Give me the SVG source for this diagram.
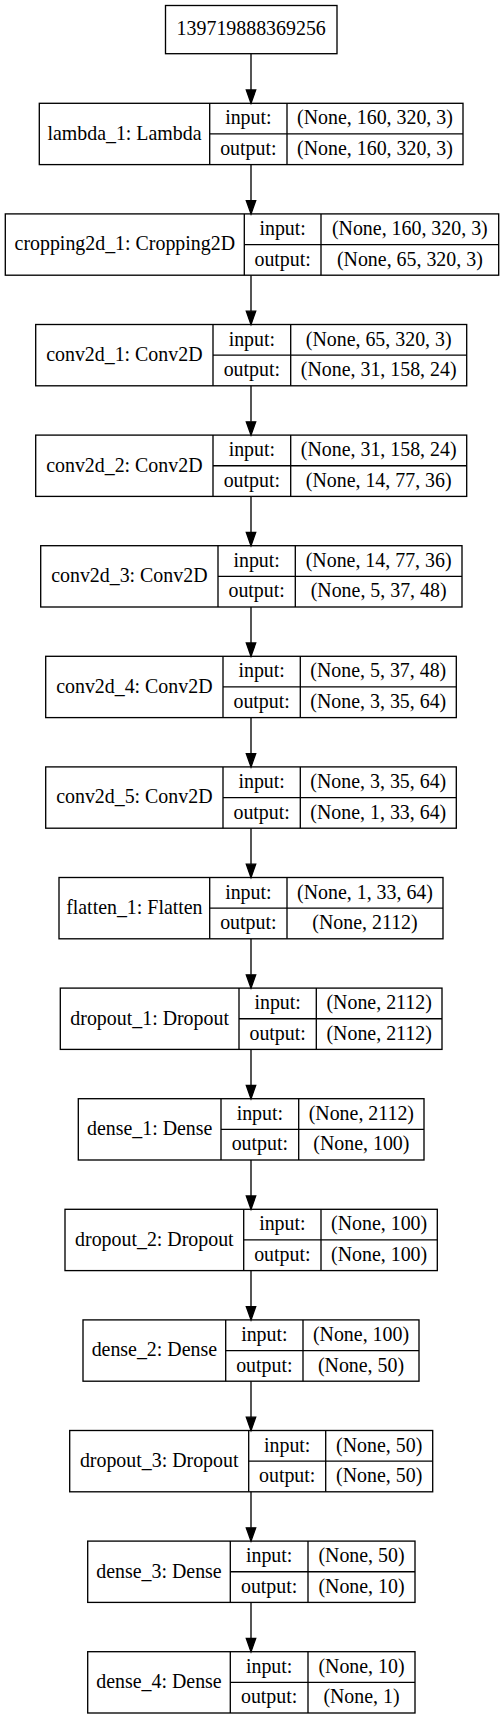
<svg xmlns="http://www.w3.org/2000/svg" width="503" height="1720" viewBox="0 0 503 1720">
<defs>
<style>
.b{fill:none;stroke:#000;stroke-width:1.33}
.l{stroke:#000;stroke-width:1.33}
text{font-family:"Liberation Serif","Times New Roman",serif;font-size:19.9px;fill:#000;text-anchor:middle}
.a{fill:#000;stroke:#000;stroke-width:1.33}
</style>
</defs>
<rect width="503" height="1720" fill="#fff"/>
<g id="connectors">
<line class="l" x1="251" y1="53.7" x2="251" y2="90"/><polygon class="a" points="251,103.3 246.3,90 255.7,90"/>
<line class="l" x1="251" y1="164.6" x2="251" y2="200.6"/><polygon class="a" points="251,213.9 246.3,200.6 255.7,200.6"/>
<line class="l" x1="251" y1="275.2" x2="251" y2="311.2"/><polygon class="a" points="251,324.5 246.3,311.2 255.7,311.2"/>
<line class="l" x1="251" y1="385.8" x2="251" y2="421.8"/><polygon class="a" points="251,435.1 246.3,421.8 255.7,421.8"/>
<line class="l" x1="251" y1="496.4" x2="251" y2="532.4"/><polygon class="a" points="251,545.7 246.3,532.4 255.7,532.4"/>
<line class="l" x1="251" y1="607" x2="251" y2="643"/><polygon class="a" points="251,656.3 246.3,643 255.7,643"/>
<line class="l" x1="251" y1="717.6" x2="251" y2="753.6"/><polygon class="a" points="251,766.9 246.3,753.6 255.7,753.6"/>
<line class="l" x1="251" y1="828.2" x2="251" y2="864.2"/><polygon class="a" points="251,877.5 246.3,864.2 255.7,864.2"/>
<line class="l" x1="251" y1="938.8" x2="251" y2="974.8"/><polygon class="a" points="251,988.1 246.3,974.8 255.7,974.8"/>
<line class="l" x1="251" y1="1049.4" x2="251" y2="1085.4"/><polygon class="a" points="251,1098.7 246.3,1085.4 255.7,1085.4"/>
<line class="l" x1="251" y1="1160" x2="251" y2="1196"/><polygon class="a" points="251,1209.3 246.3,1196 255.7,1196"/>
<line class="l" x1="251" y1="1270.6" x2="251" y2="1306.6"/><polygon class="a" points="251,1319.9 246.3,1306.6 255.7,1306.6"/>
<line class="l" x1="251" y1="1381.2" x2="251" y2="1417.2"/><polygon class="a" points="251,1430.5 246.3,1417.2 255.7,1417.2"/>
<line class="l" x1="251" y1="1491.8" x2="251" y2="1527.8"/><polygon class="a" points="251,1541.1 246.3,1527.8 255.7,1527.8"/>
<line class="l" x1="251" y1="1602.4" x2="251" y2="1638.4"/><polygon class="a" points="251,1651.7 246.3,1638.4 255.7,1638.4"/>
</g>
<g id="input_node">
<rect class="b" x="165.5" y="5.5" width="171.5" height="48.2"/>
<text x="251.2" y="34.8">139719888369256</text>
</g>
<g id="lambda_1" transform="translate(0,103.3)">
<rect class="b" x="39.3" y="0" width="423.7" height="61.3"/>
<line class="l" x1="209.7" y1="0" x2="209.7" y2="61.3"/><line class="l" x1="287" y1="0" x2="287" y2="61.3"/><line class="l" x1="209.7" y1="30.65" x2="463" y2="30.65"/>
<text x="124.5" y="36.5">lambda_1: Lambda</text><text x="248.35" y="21">input:</text><text x="248.35" y="51.8">output:</text>
<text x="375" y="21">(None, 160, 320, 3)</text><text x="375" y="51.8">(None, 160, 320, 3)</text>
</g>
<g id="cropping2d_1" transform="translate(0,213.9)">
<rect class="b" x="5.3" y="0" width="493.4" height="61.3"/>
<line class="l" x1="244.3" y1="0" x2="244.3" y2="61.3"/><line class="l" x1="321" y1="0" x2="321" y2="61.3"/><line class="l" x1="244.3" y1="30.65" x2="498.7" y2="30.65"/>
<text x="124.8" y="36.5">cropping2d_1: Cropping2D</text><text x="282.65" y="21">input:</text><text x="282.65" y="51.8">output:</text>
<text x="409.85" y="21">(None, 160, 320, 3)</text><text x="409.85" y="51.8">(None, 65, 320, 3)</text>
</g>
<g id="conv2d_1" transform="translate(0,324.5)">
<rect class="b" x="35.7" y="0" width="431" height="61.3"/>
<line class="l" x1="213" y1="0" x2="213" y2="61.3"/><line class="l" x1="290.7" y1="0" x2="290.7" y2="61.3"/><line class="l" x1="213" y1="30.65" x2="466.7" y2="30.65"/>
<text x="124.35" y="36.5">conv2d_1: Conv2D</text><text x="251.85" y="21">input:</text><text x="251.85" y="51.8">output:</text>
<text x="378.7" y="21">(None, 65, 320, 3)</text><text x="378.7" y="51.8">(None, 31, 158, 24)</text>
</g>
<g id="conv2d_2" transform="translate(0,435.1)">
<rect class="b" x="35.7" y="0" width="431" height="61.3"/>
<line class="l" x1="213" y1="0" x2="213" y2="61.3"/><line class="l" x1="290.7" y1="0" x2="290.7" y2="61.3"/><line class="l" x1="213" y1="30.65" x2="466.7" y2="30.65"/>
<text x="124.35" y="36.5">conv2d_2: Conv2D</text><text x="251.85" y="21">input:</text><text x="251.85" y="51.8">output:</text>
<text x="378.7" y="21">(None, 31, 158, 24)</text><text x="378.7" y="51.8">(None, 14, 77, 36)</text>
</g>
<g id="conv2d_3" transform="translate(0,545.7)">
<rect class="b" x="40.7" y="0" width="421.3" height="61.3"/>
<line class="l" x1="218" y1="0" x2="218" y2="61.3"/><line class="l" x1="295.3" y1="0" x2="295.3" y2="61.3"/><line class="l" x1="218" y1="30.65" x2="462" y2="30.65"/>
<text x="129.35" y="36.5">conv2d_3: Conv2D</text><text x="256.65" y="21">input:</text><text x="256.65" y="51.8">output:</text>
<text x="378.65" y="21">(None, 14, 77, 36)</text><text x="378.65" y="51.8">(None, 5, 37, 48)</text>
</g>
<g id="conv2d_4" transform="translate(0,656.3)">
<rect class="b" x="45.7" y="0" width="410.6" height="61.3"/>
<line class="l" x1="223" y1="0" x2="223" y2="61.3"/><line class="l" x1="300.3" y1="0" x2="300.3" y2="61.3"/><line class="l" x1="223" y1="30.65" x2="456.3" y2="30.65"/>
<text x="134.35" y="36.5">conv2d_4: Conv2D</text><text x="261.65" y="21">input:</text><text x="261.65" y="51.8">output:</text>
<text x="378.3" y="21">(None, 5, 37, 48)</text><text x="378.3" y="51.8">(None, 3, 35, 64)</text>
</g>
<g id="conv2d_5" transform="translate(0,766.9)">
<rect class="b" x="45.7" y="0" width="410.6" height="61.3"/>
<line class="l" x1="223" y1="0" x2="223" y2="61.3"/><line class="l" x1="300.3" y1="0" x2="300.3" y2="61.3"/><line class="l" x1="223" y1="30.65" x2="456.3" y2="30.65"/>
<text x="134.35" y="36.5">conv2d_5: Conv2D</text><text x="261.65" y="21">input:</text><text x="261.65" y="51.8">output:</text>
<text x="378.3" y="21">(None, 3, 35, 64)</text><text x="378.3" y="51.8">(None, 1, 33, 64)</text>
</g>
<g id="flatten_1" transform="translate(0,877.5)">
<rect class="b" x="59" y="0" width="384" height="61.3"/>
<line class="l" x1="209.7" y1="0" x2="209.7" y2="61.3"/><line class="l" x1="287" y1="0" x2="287" y2="61.3"/><line class="l" x1="209.7" y1="30.65" x2="443" y2="30.65"/>
<text x="134.35" y="36.5">flatten_1: Flatten</text><text x="248.35" y="21">input:</text><text x="248.35" y="51.8">output:</text>
<text x="365" y="21">(None, 1, 33, 64)</text><text x="365" y="51.8">(None, 2112)</text>
</g>
<g id="dropout_1" transform="translate(0,988.1)">
<rect class="b" x="60.3" y="0" width="381.7" height="61.3"/>
<line class="l" x1="239" y1="0" x2="239" y2="61.3"/><line class="l" x1="316.3" y1="0" x2="316.3" y2="61.3"/><line class="l" x1="239" y1="30.65" x2="442" y2="30.65"/>
<text x="149.65" y="36.5">dropout_1: Dropout</text><text x="277.65" y="21">input:</text><text x="277.65" y="51.8">output:</text>
<text x="379.15" y="21">(None, 2112)</text><text x="379.15" y="51.8">(None, 2112)</text>
</g>
<g id="dense_1" transform="translate(0,1098.7)">
<rect class="b" x="78.3" y="0" width="345.7" height="61.3"/>
<line class="l" x1="221" y1="0" x2="221" y2="61.3"/><line class="l" x1="298.7" y1="0" x2="298.7" y2="61.3"/><line class="l" x1="221" y1="30.65" x2="424" y2="30.65"/>
<text x="149.65" y="36.5">dense_1: Dense</text><text x="259.85" y="21">input:</text><text x="259.85" y="51.8">output:</text>
<text x="361.35" y="21">(None, 2112)</text><text x="361.35" y="51.8">(None, 100)</text>
</g>
<g id="dropout_2" transform="translate(0,1209.3)">
<rect class="b" x="65" y="0" width="372.3" height="61.3"/>
<line class="l" x1="243.7" y1="0" x2="243.7" y2="61.3"/><line class="l" x1="321" y1="0" x2="321" y2="61.3"/><line class="l" x1="243.7" y1="30.65" x2="437.3" y2="30.65"/>
<text x="154.35" y="36.5">dropout_2: Dropout</text><text x="282.35" y="21">input:</text><text x="282.35" y="51.8">output:</text>
<text x="379.15" y="21">(None, 100)</text><text x="379.15" y="51.8">(None, 100)</text>
</g>
<g id="dense_2" transform="translate(0,1319.9)">
<rect class="b" x="83" y="0" width="336" height="61.3"/>
<line class="l" x1="225.7" y1="0" x2="225.7" y2="61.3"/><line class="l" x1="303" y1="0" x2="303" y2="61.3"/><line class="l" x1="225.7" y1="30.65" x2="419" y2="30.65"/>
<text x="154.35" y="36.5">dense_2: Dense</text><text x="264.35" y="21">input:</text><text x="264.35" y="51.8">output:</text>
<text x="361" y="21">(None, 100)</text><text x="361" y="51.8">(None, 50)</text>
</g>
<g id="dropout_3" transform="translate(0,1430.5)">
<rect class="b" x="69.7" y="0" width="363" height="61.3"/>
<line class="l" x1="248.7" y1="0" x2="248.7" y2="61.3"/><line class="l" x1="325.7" y1="0" x2="325.7" y2="61.3"/><line class="l" x1="248.7" y1="30.65" x2="432.7" y2="30.65"/>
<text x="159.2" y="36.5">dropout_3: Dropout</text><text x="287.2" y="21">input:</text><text x="287.2" y="51.8">output:</text>
<text x="379.2" y="21">(None, 50)</text><text x="379.2" y="51.8">(None, 50)</text>
</g>
<g id="dense_3" transform="translate(0,1541.1)">
<rect class="b" x="87.7" y="0" width="327.3" height="61.3"/>
<line class="l" x1="230.3" y1="0" x2="230.3" y2="61.3"/><line class="l" x1="308" y1="0" x2="308" y2="61.3"/><line class="l" x1="230.3" y1="30.65" x2="415" y2="30.65"/>
<text x="159" y="36.5">dense_3: Dense</text><text x="269.15" y="21">input:</text><text x="269.15" y="51.8">output:</text>
<text x="361.5" y="21">(None, 50)</text><text x="361.5" y="51.8">(None, 10)</text>
</g>
<g id="dense_4" transform="translate(0,1651.7)">
<rect class="b" x="87.7" y="0" width="327.3" height="61.3"/>
<line class="l" x1="230.3" y1="0" x2="230.3" y2="61.3"/><line class="l" x1="308" y1="0" x2="308" y2="61.3"/><line class="l" x1="230.3" y1="30.65" x2="415" y2="30.65"/>
<text x="159" y="36.5">dense_4: Dense</text><text x="269.15" y="21">input:</text><text x="269.15" y="51.8">output:</text>
<text x="361.5" y="21">(None, 10)</text><text x="361.5" y="51.8">(None, 1)</text>
</g>
</svg>
